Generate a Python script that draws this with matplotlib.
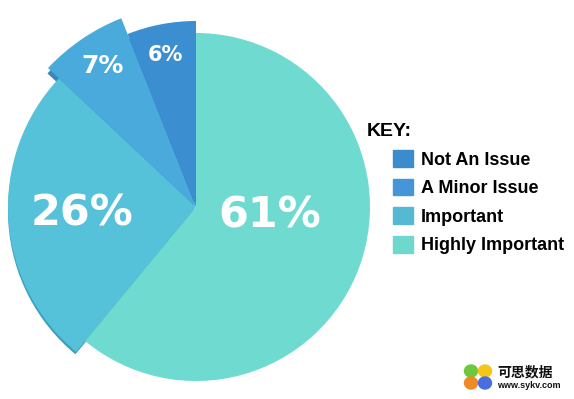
import matplotlib.pyplot as plt
from matplotlib.patches import Ellipse

# data
labels = ['Highly Important', 'Important', 'A Minor Issue', 'Not An Issue']
values = [61, 26, 7, 6]
pct_text = ['61%', '26%', '7%', '6%']
colors = ['#6fdbd0', '#55c2d9', '#4aaadc', '#3b8fd0']
shadow_colors = ['none', '#3f9fc0', '#3a86bd', '#2c6fb0']
key_colors = ['#6ed8cc', '#55b9d4', '#4596d8', '#3a8ccd']

W, H = 574, 399
fig = plt.figure(figsize=(W / 100, H / 100), dpi=100)
ax = fig.add_axes([0, 0, 1, 1])

cx, cy = 196, H - 207
radii = [174, 188, 203, 186]

# darker copy underneath for a bit of depth
sh, _ = ax.pie(values, colors=shadow_colors, startangle=90, counterclock=False,
               center=(cx - 2, cy - 4), radius=174)
for w, r in zip(sh, radii):
    w.set_radius(r - 2)
    w.set_edgecolor('none')

wedges, _ = ax.pie(values, colors=colors, startangle=90, counterclock=False,
                   center=(cx, cy), radius=174)
for w, r in zip(wedges, radii):
    w.set_radius(r)
    w.set_edgecolor('none')
wedges[0].set_zorder(3)

ax.set_xlim(0, W)
ax.set_ylim(0, H)
ax.set_aspect('equal')
ax.axis('off')

# percentage labels
label_pos = [(270, H - 216), (82, H - 213), (103, H - 66), (165, H - 55)]
label_size = [31, 31, 18, 15]
for t, (x, y), s in zip(pct_text, label_pos, label_size):
    ax.text(x, y, t, color='white', fontsize=s, fontweight='bold',
            ha='center', va='center', family='DejaVu Sans', zorder=5)

# key
ax.text(367, H - 131, 'KEY:', fontsize=14, fontweight='bold', family='Liberation Sans',
        ha='left', va='center', color='black')
handles = [plt.Rectangle((0, 0), 1, 1, color=c) for c in key_colors[::-1]]
fig.legend(handles, labels[::-1], loc='upper left', bbox_to_anchor=(393 / W, 1 - 150 / H),
           frameon=False, prop={'family': 'Liberation Sans', 'weight': 'bold', 'size': 13},
           handlelength=1.1, handleheight=1.05, handletextpad=0.45, labelspacing=0.56,
           borderpad=0, borderaxespad=0)

# watermark
for (dx, dy, c) in [(-7, 6, '#6cc83c'), (7, 6, '#f5c518'), (-7, -6, '#f08a24'), (7, -6, '#4a6ee0')]:
    ax.add_patch(Ellipse((478 + dx, H - 377 + dy), 13, 12, color=c, zorder=6))
ax.text(497, H - 372, '可思数据', fontsize=10, fontweight='bold', family='Noto Sans CJK SC',
        ha='left', va='center', color='#111111')
ax.text(497, H - 386, 'www.sykv.com', fontsize=6.5, fontweight='bold', family='Liberation Sans',
        ha='left', va='center', color='#111111')

plt.savefig('out.png', dpi=100)
